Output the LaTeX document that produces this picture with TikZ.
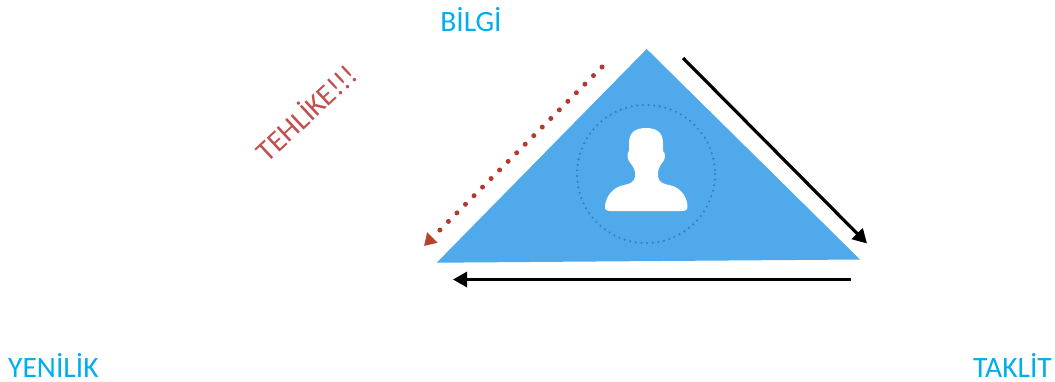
\documentclass[tikz,border=0pt]{standalone}
\usepackage{fontspec}
\setmainfont{Carlito}
\usetikzlibrary{arrows.meta}
\definecolor{lbl}{HTML}{00ADEF}
\definecolor{tri}{HTML}{4FA9EA}
\definecolor{dotb}{HTML}{2F7FBF}
\definecolor{redd}{HTML}{B23A30}
\definecolor{warn}{HTML}{C0504D}
\tikzset{
  x=1pt,y=-1pt,
  lab/.style={text=lbl,font=\fontsize{29.5}{34}\selectfont,inner sep=0pt},
  blackarrow/.style={draw=black,line width=3.2pt,-{Triangle[length=14pt,width=15pt]}},
  redarrow/.style={draw=redd,line width=5pt,line cap=round,dash pattern=on 0pt off 12.1pt,-{Triangle[length=12pt,width=14pt,color=redd!90!orange]}},
}
\begin{document}
\begin{tikzpicture}
\useasboundingbox (0,0) rectangle (1055,381);
\coordinate (apex) at (646.7,49);
\coordinate (left) at (436.7,262.7);
\coordinate (right) at (860,259.5);
\fill[tri] (apex) -- (right) -- (left) -- cycle;
\coordinate (cc) at (646,174);
\draw[dotb,line width=2.3pt,line cap=round,dash pattern=on 0pt off 5.65pt] (cc) circle[radius=69];
% person
\fill[white] (646,128)
  .. controls (656,128) and (663,132) .. (663,143)
  -- (663,151)
  .. controls (665.5,153) and (665.5,158) .. (663.5,161)
  .. controls (661,164) and (658.5,168) .. (658,172)
  -- (658,177)
  .. controls (659,182) and (663,184) .. (669,185)
  .. controls (680,187) and (687,196) .. (687.5,206)
  .. controls (688,209) and (686,211) .. (682,211)
  -- (610,211)
  .. controls (606,211) and (604.5,209) .. (605,206)
  .. controls (606,196) and (613,187) .. (624,185)
  .. controls (630,184) and (634,182) .. (635,177)
  -- (635,172)
  .. controls (634.5,168) and (631,164) .. (629,161)
  .. controls (627,158) and (627,153) .. (629,151)
  -- (629,143)
  .. controls (629,132) and (636,128) .. (646,128) -- cycle;
\coordinate (ra) at (683,58);
\coordinate (rb) at (867,243.5);
\draw[blackarrow] (ra) -- (rb);
\coordinate (ba) at (851,279.5);
\coordinate (bb) at (453,279.5);
\draw[blackarrow] (ba) -- (bb);
\coordinate (da) at (602,67);
\coordinate (db) at (424,246);
\draw[redarrow] (da) -- (db);
\node[lab,anchor=center] (bilgi) at (471,20) {BİLGİ};
\node[lab,anchor=west] (yenilik) at (8,365) {YENİLİK};
\node[lab,anchor=east] (taklit) at (1052,365) {TAKLİT};
\node[text=warn,font=\fontsize{29.5}{34}\selectfont,rotate=43,inner sep=0pt] (tehlike) at (305.5,112) {TEHLİKE!!!};
\end{tikzpicture}
\end{document}
